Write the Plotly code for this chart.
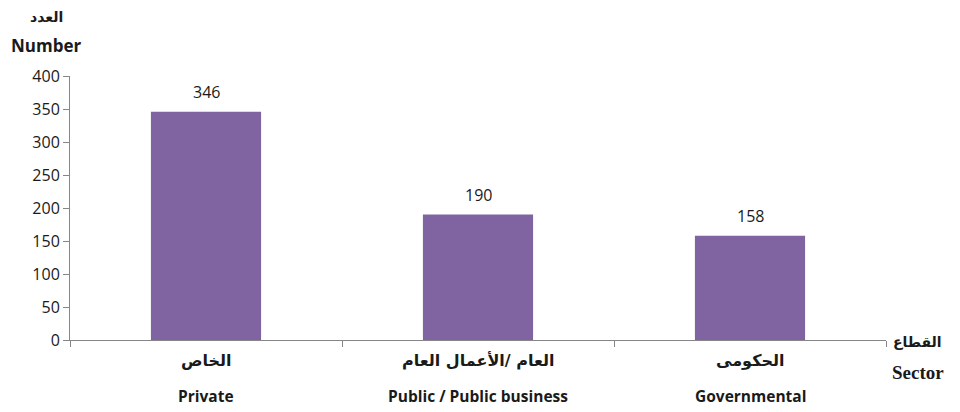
import plotly.graph_objects as go

categories = ["Private", "Public / Public business", "Governmental"]
categories_ar = ["الخاص", "العام /الأعمال العام", "الحكومى"]
values = [346, 190, 158]
y_ticks = [0, 50, 100, 150, 200, 250, 300, 350, 400]

bar_color = "#8064A2"
axis_color = "#868686"
text_color = "#1a1a1a"
font_main = "Open Sans, DejaVu Sans, sans-serif"

fig = go.Figure()
fig.add_trace(go.Bar(
    x=[0, 1, 2], y=values,
    marker=dict(color=bar_color, line=dict(width=0)),
    width=0.405,
))

annotations = []
for i, v in enumerate(values):
    annotations.append(dict(x=i, y=v, xref="x", yref="y", text=str(v),
                            showarrow=False, yanchor="middle", yshift=20,
                            font=dict(size=16, color=text_color, family=font_main)))
for i, (en, ar) in enumerate(zip(categories, categories_ar)):
    annotations.append(dict(x=i, y=0, xref="x", yref="y", text="<b>%s</b>" % ar,
                            showarrow=False, yanchor="middle", yshift=-20,
                            font=dict(size=16, color=text_color, family="DejaVu Sans, sans-serif")))
    annotations.append(dict(x=i, y=0, xref="x", yref="y", text="<b>%s</b>" % en,
                            showarrow=False, yanchor="middle", yshift=-56,
                            font=dict(size=15.5, color=text_color, family=font_main)))

annotations += [
    dict(x=-0.029, y=1, xref="paper", yref="paper", yshift=59, text="<b>العدد</b>",
         showarrow=False, xanchor="center", yanchor="middle",
         font=dict(size=14, color=text_color, family="DejaVu Sans, sans-serif")),
    dict(x=-0.029, y=1, xref="paper", yref="paper", yshift=31, text="<b>Number</b>",
         showarrow=False, xanchor="center", yanchor="middle",
         font=dict(size=17, color=text_color, family=font_main)),
    dict(x=1.039, y=0, xref="paper", yref="paper", yshift=-2, text="<b>القطاع</b>",
         showarrow=False, xanchor="center", yanchor="middle",
         font=dict(size=14, color=text_color, family="DejaVu Sans, sans-serif")),
    dict(x=1.039, y=0, xref="paper", yref="paper", yshift=-32, text="<b>Sector</b>",
         showarrow=False, xanchor="center", yanchor="middle",
         font=dict(size=19, color=text_color, family="Liberation Serif, serif")),
]

fig.update_layout(
    width=952, height=404,
    margin=dict(l=62, r=74, t=68, b=72, autoexpand=False),
    paper_bgcolor="white", plot_bgcolor="white",
    showlegend=False,
    annotations=annotations,
    xaxis=dict(
        range=[-0.5, 2.5],
        tickmode="array", tickvals=[-0.5, 0.5, 1.5, 2.5], ticktext=["", "", "", ""],
        ticks="outside", ticklen=6, tickcolor=axis_color, tickwidth=1,
        showline=True, linecolor=axis_color, linewidth=1,
        showgrid=False, zeroline=False,
    ),
    yaxis=dict(
        range=[0, 400],
        tickmode="array", tickvals=y_ticks,
        ticks="outside", ticklen=6, tickcolor=axis_color, tickwidth=1,
        showline=True, linecolor=axis_color, linewidth=1,
        showgrid=False, zeroline=False,
        tickfont=dict(size=16, color=text_color, family=font_main),
    ),
)

fig.write_html("out.html")
